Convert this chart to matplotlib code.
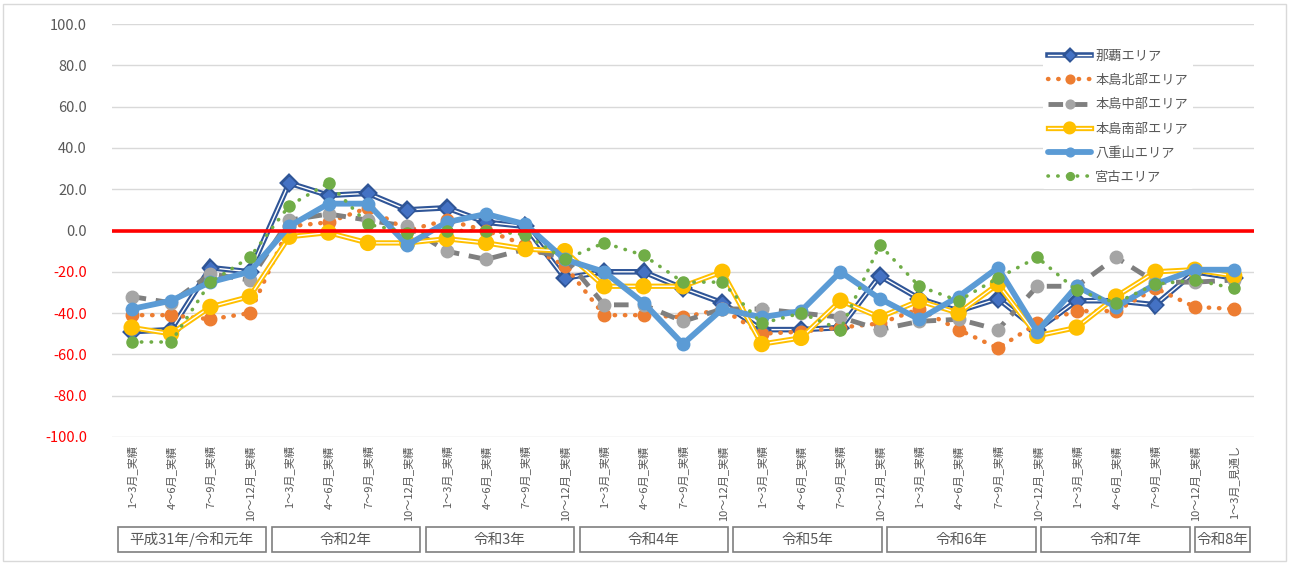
import numpy as np
import matplotlib
matplotlib.use("Agg")
from matplotlib import pyplot as plt
from matplotlib import patheffects as pe
from matplotlib.patches import Rectangle
from matplotlib.transforms import blended_transform_factory

plt.rcParams['font.family'] = ['Noto Sans CJK JP', 'DejaVu Sans']

# categories
quarters = ["1～3月", "4～6月", "7～9月", "10～12月"]
years = ["平成31年/令和元年", "令和2年", "令和3年", "令和4年",
         "令和5年", "令和6年", "令和7年", "令和8年"]
year_sizes = [4, 4, 4, 4, 4, 4, 4, 1]
labels = [q + "_実績" for _ in range(7) for q in quarters] + ["1～3月_見通し"]

# series (DI values)
naha = [-49, -48, -18, -20, 23, 17, 18, 10, 11, 4, 2, -23, -20, -20, -28,
        -35, -48, -48, -47, -22, -33, -39, -33, -48, -34, -34, -36, -20, -23]
hokubu = [-41, -41, -43, -40, 2, 4, 11, 0, 5, 0, -7, -17, -41, -41, -42,
          -38, -50, -49, -47, -45, -38, -48, -57, -45, -39, -39, -28, -37, -38]
chubu = [-32, -35, -21, -24, 5, 8, 5, 2, -10, -14, -9, -13, -36, -36, -44,
         -38, -38, -40, -42, -48, -44, -43, -48, -27, -27, -13, -25, -25, -24]
nanbu = [-47, -50, -37, -32, -3, -1, -6, -6, -4, -6, -9, -10, -27, -27, -27,
         -20, -55, -52, -34, -42, -34, -40, -26, -51, -47, -32, -20, -19, -22]
yaeyama = [-38, -34, -25, -20, 2, 13, 13, -7, 4, 8, 3, -14, -20, -35, -55,
           -38, -42, -39, -20, -33, -43, -32, -18, -49, -27, -37, -26, -19, -19]
miyako = [-54, -54, -25, -13, 12, 23, 3, -1, 0, 0, -2, -14, -6, -12, -25,
          -25, -45, -40, -48, -7, -27, -34, -23, -13, -29, -35, -26, -24, -28]

GRAY_TXT = "#595959"
x = np.arange(len(labels))

fig = plt.figure(figsize=(12.9, 5.64), dpi=100)
ax = fig.add_axes([0.0868, 0.2252, 0.972 - 0.0868, 0.9574 - 0.2252])

# 那覇 : double line, diamonds
ax.plot(x, naha, color="white", lw=1.0, marker="D", ms=6,
        mfc="#4472C4", mec="#4472C4", label="那覇エリア", zorder=3,
        path_effects=[pe.Stroke(linewidth=4, foreground="#2F5597"), pe.Normal()])
# 本島北部 : orange dots
ax.plot(x, hokubu, color="#ED7D31", lw=3.2, ls=(0, (0.1, 2.2)),
        dash_capstyle="round", marker="o", ms=9, mec="#ED7D31",
        label="本島北部エリア", zorder=3)
# 本島中部 : gray dashes
ax.plot(x, chubu, color="#7F7F7F", lw=3.5, ls=(0, (3, 2)),
        marker="o", ms=9, mfc="#A5A5A5", mec="#A5A5A5",
        label="本島中部エリア", zorder=3)
# 本島南部 : yellow double line
ax.plot(x, nanbu, color="white", lw=1.0, marker="o", ms=8,
        mfc="#FFC000", mec="#FFC000", label="本島南部エリア", zorder=3,
        path_effects=[pe.Stroke(linewidth=3.8, foreground="#FFC000"), pe.Normal()])
# 八重山 : thick light blue
ax.plot(x, yaeyama, color="#5B9BD5", lw=4.2, solid_capstyle="round",
        marker="o", ms=9, label="八重山エリア", zorder=3)
# 宮古 : green dots
ax.plot(x, miyako, color="#70AD47", lw=2.6, ls=(0, (0.1, 2.6)),
        dash_capstyle="round", marker="o", ms=8, mec="#70AD47",
        label="宮古エリア", zorder=3)

ax.axhline(0, color="#FF0000", lw=2.6, zorder=5)

ax.set_xlim(-0.5, len(labels) - 0.5)
ax.set_ylim(-100, 100)
yt = np.arange(-100, 101, 20)
ax.set_yticks(yt)
ax.set_yticklabels([f"{v:.1f}" for v in yt], fontsize=10.5)
for v, tl in zip(yt, ax.get_yticklabels()):
    tl.set_color("#FF0000" if v < 0 else GRAY_TXT)
ax.tick_params(axis="y", length=0, pad=18)
ax.grid(axis="y", color="#D9D9D9", lw=1)
ax.set_axisbelow(True)
for s in ax.spines.values():
    s.set_visible(False)

ax.set_xticks(x)
ax.set_xticklabels(labels, rotation=90, fontsize=8, color=GRAY_TXT,
                   va="top", ha="center")
ax.tick_params(axis="x", length=0, pad=6)

# year group boxes (Excel squeezes them slightly, last one widened for its text)
trans = blended_transform_factory(ax.transData, fig.transFigure)
pitch = 3.91
for k, (name, n) in enumerate(zip(years, year_sizes)):
    left = -0.356 + pitch * k
    right = min(left + pitch * n / 4 - 0.14, len(labels) - 0.6)
    if n == 1:
        right = len(labels) - 0.6
    width = right - left
    ax.add_patch(Rectangle((left, 0.0213), width, 0.0443, transform=trans,
                           fill=False, ec="#7F7F7F", lw=1.2, clip_on=False))
    ax.text(left + width / 2, 0.0434, name, transform=trans, ha="center",
            va="center", fontsize=10.5, color=GRAY_TXT)

leg = ax.legend(loc="upper left", bbox_to_anchor=(1036 / 1290, 1 - 38 / 564),
                bbox_transform=fig.transFigure, fontsize=9.5, frameon=True,
                labelspacing=0.85, handlelength=3.3, handletextpad=0.3,
                borderpad=0.4, labelcolor=GRAY_TXT, markerscale=0.7)
leg.get_frame().set_edgecolor("none")
leg.get_frame().set_facecolor("white")
leg.get_frame().set_alpha(1)
leg.set_zorder(6)

# chart border
fig.add_artist(Rectangle((3 / 1290, 3 / 564), 1 - 7 / 1290, 1 - 7 / 564,
                         transform=fig.transFigure, fill=False,
                         ec="#D9D9D9", lw=1))

fig.savefig("out.png", dpi=100)
